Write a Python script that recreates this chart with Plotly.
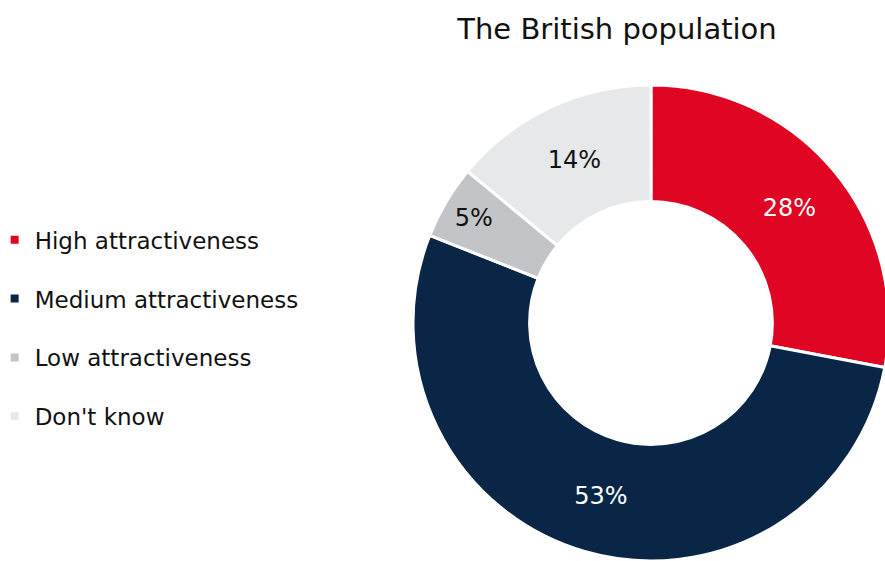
import plotly.graph_objects as go

title = "The British population"
categories = ["High attractiveness", "Medium attractiveness", "Low attractiveness", "Don't know"]
values = [28, 53, 5, 14]
colors = ["#E00522", "#0A2646", "#C3C4C8", "#E7E8EA"]
text_colors = ["#FFFFFF", "#FFFFFF", "#111111", "#111111"]

FONT = "DejaVu Sans"
W, H = 892, 561

fig = go.Figure()
fig.add_trace(go.Pie(
    labels=categories,
    values=values,
    sort=False,
    direction="clockwise",
    rotation=0,
    hole=0.51,
    marker=dict(colors=colors, line=dict(color="white", width=3)),
    texttemplate="%{value}%",
    textposition="inside",
    insidetextorientation="horizontal",
    insidetextfont=dict(family=FONT, size=24, color=text_colors),
    showlegend=False,
    domain=dict(x=[0.463, 0.9966], y=[0.0, 0.8485]),
))

for cat, col in zip(categories, colors):
    fig.add_trace(go.Scatter(
        x=[None], y=[None], mode="markers", name=cat,
        marker=dict(symbol="square", size=8, color=col),
        legendgroup=cat, showlegend=True,
    ))

fig.update_layout(
    width=W, height=H,
    margin=dict(l=0, r=0, t=0, b=0, autoexpand=False),
    paper_bgcolor="white", plot_bgcolor="white",
    font=dict(family=FONT, color="#111111"),
    title=dict(text=title, x=617 / W, xanchor="center", y=0.948, yanchor="middle",
               font=dict(family=FONT, size=29, color="#111111")),
    legend=dict(x=-0.006, xanchor="left", y=0.415, yanchor="middle",
                traceorder="grouped", tracegroupgap=26,
                font=dict(family=FONT, size=23, color="#111111"),
                bgcolor="rgba(0,0,0,0)"),
    xaxis=dict(visible=False),
    yaxis=dict(visible=False),
)

fig.write_html(
    "out.html",
    post_script="document.documentElement.style.overflow='hidden';document.body.style.overflow='hidden';",
)
